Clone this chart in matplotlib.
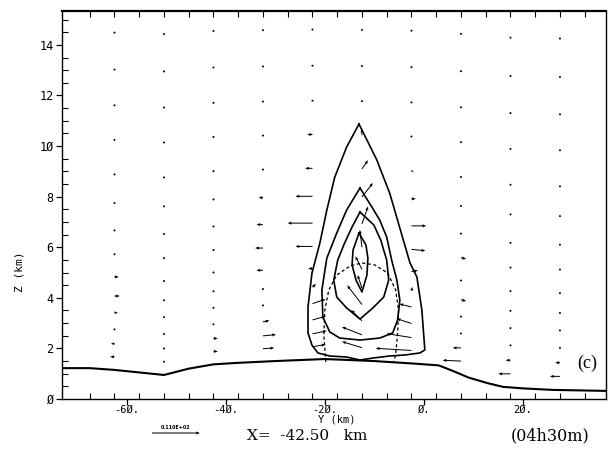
import numpy as np
import matplotlib; matplotlib.use("Agg")
import matplotlib.pyplot as plt

# ---- data ----
# terrain line (km)
ter_y = [-73, -67.5, -62.5, -57.5, -52.5, -47.5, -42.5, -37.5, -30, -20, -10, -2, 3, 6, 9, 13, 16, 20, 26, 37]
ter_z = [1.22, 1.22, 1.15, 1.05, 0.95, 1.2, 1.37, 1.43, 1.5, 1.58, 1.5, 1.4, 1.33, 1.1, 0.85, 0.62, 0.48, 0.42, 0.36, 0.32]

# vector grid: columns (km) and terrain-following levels (km above ground)
vec_y = [-62.5, -52.5, -42.5, -32.5, -22.5, -12.5, -2.5, 7.5, 17.5, 27.5]
lev_s = [0.55, 1.1, 1.7, 2.4, 3.1, 3.9, 4.85, 5.85, 7.0, 8.2, 9.65, 11.1, 12.6, 14.15]
ztop = 20.0

# horizontal / vertical components (rows = levels from bottom, cols = vec_y)
vec_u = [
    [-1.0, 0, 1.0, 2.6, 3.0, -4.6, -8.2, -4.2, -2.8, -2.3],
    [-0.8, 0, 1.0, 3.0, 3.3, -4.6, -5.7, -1.9, -1.1, -1.1],
    [0, 0, 0.5, 1.5, 3.0, -2.5, -3.4, 0, 0, -0.3],
    [0.8, 0, 0, 0, 3.0, -3.4, -2.8, 0, 0, 0],
    [1.2, 0, 0, 0, 0.8, -1.0, 0.3, 1.2, 0, 0],
    [1.0, 0, 0, -1.5, -1.0, -1.5, 1.5, 0.3, 0.5, 0],
    [0, 0, 0, -1.8, -3.9, -0.5, 3.2, 1.2, 0, 0],
    [0, 0, 0, -1.5, -5.7, 1.4, 3.4, 0.3, 0, 0],
    [0, 0, 0, -1.0, -3.9, 2.5, 1.0, 0, 0, 0],
    [0, 0, 0, -0.3, -1.7, 1.4, 0.5, 0, 0, 0],
    [0, 0, 0, 0, -1.2, 0, 0.3, 0, 0, 0],
    [0, 0, 0, 0, 0, 0, 0, 0, 0, 0],
    [0, 0, 0, 0, 0, 0, 0, 0, 0, 0],
    [0, 0, 0, 0, 0, 0, 0, 0, 0, 0],
]
vec_w = [
    [0, 0, 0, 0.2, 0.5, 1.4, 0.5, 0.2, 0, 0],
    [0, 0, 0, 0.3, 0.7, 1.8, 0.9, 0, 0, 0],
    [0, 0, 0, 0.3, 0.8, 2.5, 1.1, 0, 0, 0],
    [0, 0, 0, 0, 1.0, 4.4, 0.7, 0, 0, 0],
    [0, 0, 0, 0, 0.8, 3.0, 0.8, -0.3, 0, 0],
    [0, 0, 0, 0, 0, 3.0, 0.3, 0, 0, 0],
    [0, 0, 0, 0, 0, 4.0, -0.3, -0.3, 0, 0],
    [0, 0, 0, 0, 0, 4.0, 0, 0, 0, 0],
    [0, 0, 0, 0, 0, 3.2, 0, 0, 0, 0],
    [0, 0, 0, 0, 0, 2.0, -0.3, 0, 0, 0],
    [0, 0, 0, 0, 0, 1.5, 0, 0, 0, 0],
    [0, 0, 0, 0, 0, 0, 0, 0, 0, 0],
    [0, 0, 0, 0, 0, 0, 0, 0, 0, 0],
    [0, 0, 0, 0, 0, 0, 0, 0, 0, 0],
]
ref_speed = 11.0

# solid contours (closed)
c1_y = [-13.1, -15.6, -18.0, -19.6, -21.0, -22.6, -23.4, -23.4, -22.6, -21.4, -19.0, -15.6, -12.9, -10.3, -6.9, -3.8, -0.8, 0.2, -0.4, -1.4, -2.8, -4.85, -6.9, -9.5]
c1_z = [10.87, 9.96, 8.77, 7.47, 6.17, 4.98, 3.64, 2.61, 2.13, 1.82, 1.70, 1.66, 1.54, 1.62, 1.70, 1.74, 1.82, 1.94, 3.52, 4.82, 5.38, 6.76, 8.14, 9.45]
c2_y = [-12.9, -15.6, -17.6, -19.6, -20.6, -20.4, -19.0, -17.0, -12.9, -8.9, -6.3, -5.3, -4.85, -5.45, -6.5, -7.5, -8.9, -10.5]
c2_z = [8.34, 7.47, 6.56, 5.57, 4.31, 3.24, 2.65, 2.41, 2.33, 2.41, 2.61, 3.12, 3.91, 4.70, 5.49, 6.40, 7.07, 7.59]
c3_y = [-12.9, -14.5, -16.0, -17.4, -18.2, -17.6, -15.6, -12.9, -10.3, -8.1, -7.1, -7.5, -8.7, -10.1]
c3_z = [7.39, 6.80, 6.17, 5.49, 4.70, 4.03, 3.60, 3.16, 3.60, 4.03, 4.70, 5.49, 6.28, 6.88]
c4_y = [-13.1, -14.3, -14.5, -13.7, -12.5, -11.5, -11.3, -11.7]
c4_z = [6.56, 5.89, 5.30, 4.70, 4.23, 4.90, 5.57, 6.09]
# dashed contour (open at the ground)
d1_y = [-19.8, -20.2, -20.0, -19.2, -17.6, -14.9, -12.5, -9.9, -7.3, -5.7, -5.1, -5.3, -5.7, -6.1]
d1_z = [1.46, 2.53, 3.52, 4.31, 4.90, 5.26, 5.38, 5.30, 4.98, 4.31, 3.52, 2.61, 1.74, 1.46]

xticks = [-60, -40, -20, 0, 20]
xticklabels = ["-6Ø.", "-4Ø.", "-2Ø.", "Ø.", "2Ø."]
yticks = [0, 2, 4, 6, 8, 10, 12, 14]
yticklabels = ["Ø", "2", "4", "6", "8", "1Ø", "12", "14"]

# ---- figure ----
W_, H_ = 608, 472
fig = plt.figure(figsize=(6.08, 4.72), dpi=100)
ax = fig.add_axes([62/W_, 1-399/H_, (606-62)/W_, (399-11)/H_])
ax.set_xlim(-73.1, 36.8); ax.set_ylim(0, 15.34)

# grid positions follow the terrain
zb = np.interp(vec_y, ter_y, ter_z)
S = np.array(lev_s)[:, None]
Z = zb[None, :] + S*(1 - zb[None, :]/ztop)
Y = np.broadcast_to(np.array(vec_y)[None, :], Z.shape)
q = ax.quiver(Y, Z, np.array(vec_u), np.array(vec_w), angles="uv", scale_units="inches",
              scale=100/4.36, pivot="tail", units="inches", width=0.01,
              headwidth=3.2, headlength=4, headaxislength=3.6, minlength=2.2, color="k")

ax.plot(ter_y, ter_z, color="k", lw=1.5)
for cy, cz in [(c1_y, c1_z), (c2_y, c2_z), (c3_y, c3_z), (c4_y, c4_z)]:
    ax.plot(cy + cy[:1], cz + cz[:1], color="k", lw=1.2)
ax.plot(d1_y, d1_z, color="k", lw=0.9, ls=(0, (2.5, 2)))

ax.quiverkey(q, 176/W_, 1-433/H_, ref_speed, "0.110E+02", labelpos="N", coordinates="figure",
             labelsep=0.03, fontproperties={"size": 3.5, "weight": "bold"})

# axes / ticks
ax.set_xticks(xticks); ax.set_xticklabels(xticklabels, family="DejaVu Sans Mono", fontsize=7.5)
ax.set_yticks(yticks); ax.set_yticklabels(yticklabels, family="DejaVu Sans Mono", fontsize=8.5)
ax.set_xticks(np.arange(-67.5, 36, 5), minor=True)
ax.set_yticks(np.arange(0, 15.3, 0.5), minor=True)
ax.tick_params(which="major", direction="out", length=4, width=0.9, pad=2)
ax.tick_params(axis="x", which="major", pad=0.3)
ax.tick_params(which="minor", direction="in", length=4, width=0.8)
ax.tick_params(axis="x", which="minor", top=True)
for sp in ax.spines.values():
    sp.set_linewidth(1.0)
ax.spines["top"].set_linewidth(1.6)

fig.text(20/W_, 1-272/H_, "Z (km)", rotation=90, ha="center", va="center", fontsize=8, family="DejaVu Sans Mono")
fig.text(337/W_, 1-420/H_, "Y (km)", ha="center", va="center", fontsize=7.5, family="DejaVu Sans Mono")
fig.text(247/W_, 1-436/H_, "X=  -42.50   km", ha="left", va="center", fontsize=11, family="DejaVu Serif")
fig.text(590/W_, 1-436/H_, "(04h30m)", ha="right", va="center", fontsize=11.5, family="DejaVu Serif")
fig.text(587/W_, 1-363/H_, "(c)", ha="center", va="center", fontsize=13, family="Liberation Serif")

fig.savefig("out.png", dpi=100)
